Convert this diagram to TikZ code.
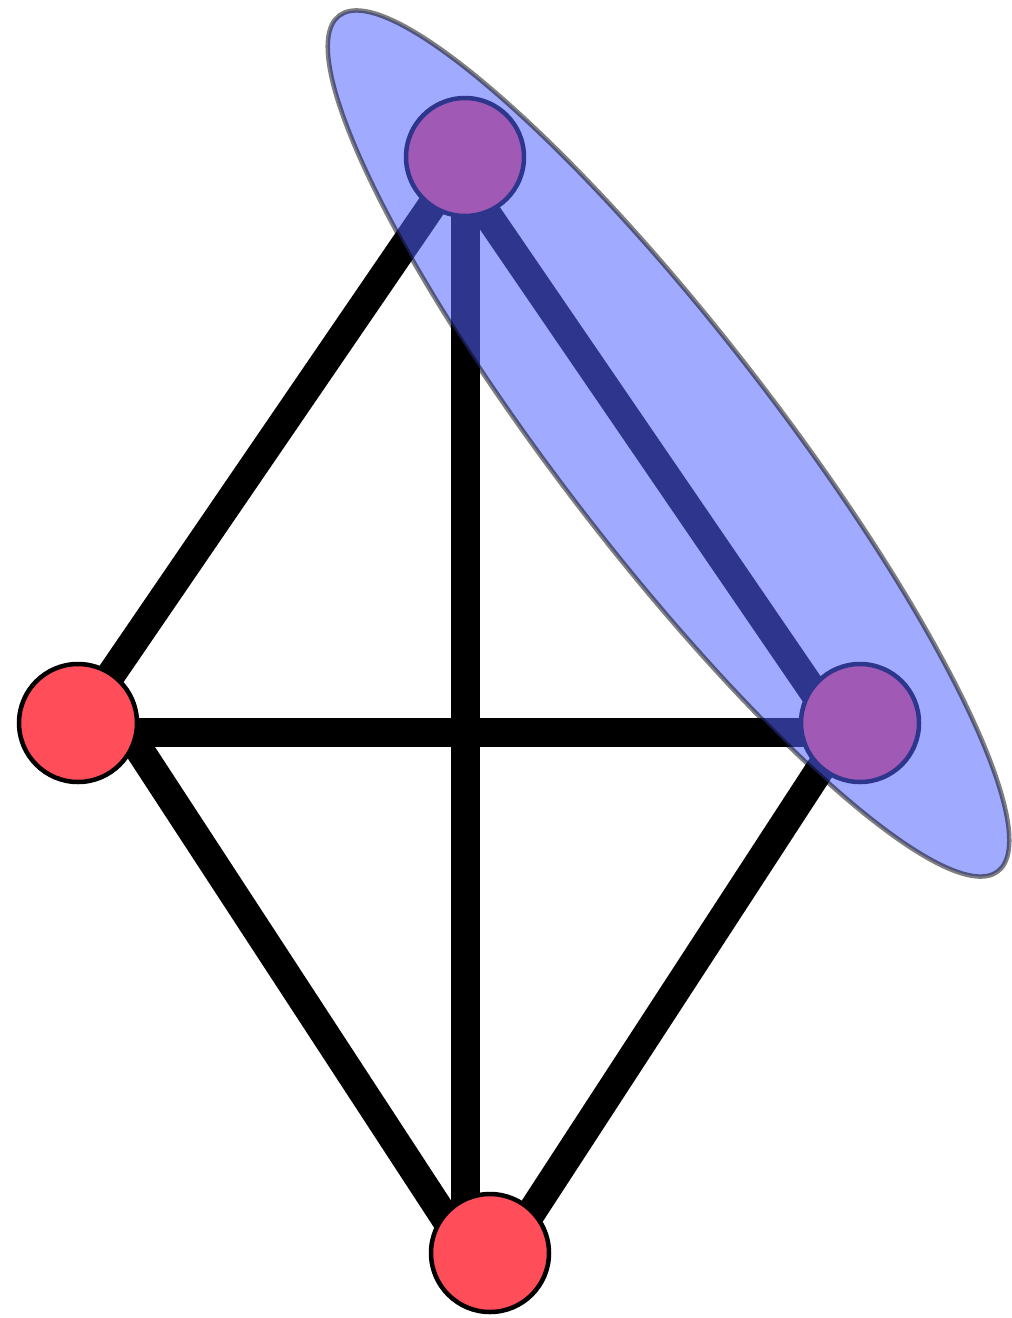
\documentclass[tikz,border=0pt]{standalone}
\usepackage{tikz}
\usetikzlibrary{shapes.geometric, backgrounds}
\definecolor{vertexred}{RGB}{255, 77, 90}
\definecolor{cliqueblue}{RGB}{82, 100, 255}
\tikzset{
  vertex/.style={
    circle, draw=black, fill=vertexred, line width=4.5pt,
    minimum size=118pt, inner sep=0pt
  },
  link/.style={draw=black, line width=29pt},
  cliquehl/.style={
    ellipse, draw=black, fill=cliqueblue, fill opacity=0.55, draw opacity=0.5,
    line width=4.5pt, minimum width=1080pt, minimum height=219pt, inner sep=0pt
  }
}
\begin{document}
\begin{tikzpicture}[x=1pt, y=-1pt]
  \useasboundingbox (0,0) rectangle (1012,1318);

  % Vertices
  \node[vertex] (t) at (465,157) {};
  \node[vertex] (l) at (78,723) {};
  \node[vertex] (r) at (860,723) {};
  \node[vertex] (b) at (490,1253) {};

  % Edges, behind the vertices
  \begin{scope}[on background layer]
    \path[link] (t.center) -- (l.center);
    \path[link] ([xshift=-17pt]t.center) -- ([xshift=-25pt]r.center);
    \path[link] (t.center) -- (t.center |- b.center);
    \path[link] ([yshift=-9pt]l.center) -- ([yshift=-9pt]r.center);
    \path[link] ([xshift=44pt]l.center) -- ([xshift=-22pt]b.center);
    \path[link] ([xshift=-10pt]r.center) -- ([xshift=15pt]b.center);
  \end{scope}

  % Highlighted edge t--r
  \node[cliquehl, rotate=-52.4] (hl) at (668.5,443.5) {};
\end{tikzpicture}
\end{document}
